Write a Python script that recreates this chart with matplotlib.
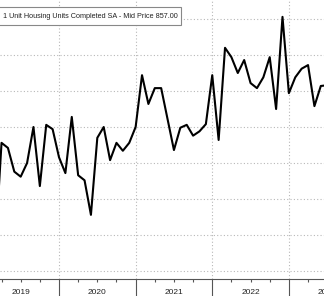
import numpy as np
import matplotlib
matplotlib.use("Agg")
import matplotlib.pyplot as plt
from matplotlib.patches import Rectangle

# mois depuis janv. 2019 (2 = mars 2019 ... 54 = juil. 2023)
months = np.arange(2, 55)
# logements unifamiliaux achevés (milliers, SA)
units = [779, 928, 921, 888, 881, 900, 950, 868, 953, 947,
         908, 886, 964, 883, 876, 828, 935, 950, 904, 928, 917, 928,
         950, 1022, 982, 1004, 1004, 961, 918, 949, 953, 938, 944, 954,
         1022, 932, 1060, 1047, 1025, 1043, 1011, 1004, 1019, 1047, 975, 1103,
         997, 1019, 1031, 1036, 979, 1007, 1008]

years = ["2019", "2020", "2021", "2022", "2023"]
year_mid = [6, 18, 30, 42, 54]
year_edges = [12, 24, 36, 48]
quarters = [m for m in range(3, 54, 3) if m % 12 != 0]
grid_levels = np.arange(750, 1101, 50)

legend_text = "1 Unit Housing Units Completed SA - Mid Price 857.00"
font = ["Liberation Sans", "DejaVu Sans"]

fig = plt.figure(figsize=(3.24, 2.96), dpi=100)
ax = fig.add_axes([0, 17 / 296, 1, 279 / 296])

ax.plot(months, units, color="black", lw=1.5, zorder=3)

for g in grid_levels:
    ax.axhline(g, color="#b8b8b8", lw=0.8, ls=(0, (1, 2)), zorder=1)
for e in year_edges:
    ax.axvline(e, color="#b8b8b8", lw=0.8, ls=(0, (1, 2)), zorder=1)

for s in ["top", "left", "right"]:
    ax.spines[s].set_visible(False)
ax.spines["bottom"].set_color("#555555")
ax.spines["bottom"].set_linewidth(0.8)

ax.set_yticks([])
ax.set_xticks(year_edges)
ax.set_xticks(quarters, minor=True)
ax.tick_params(axis="x", which="major", direction="out", length=13,
               width=0.8, color="#555555", labelbottom=False)
ax.tick_params(axis="x", which="minor", direction="out", length=2,
               width=0.8, color="#555555")

# limites posées après les ticks (set_xticks élargit la vue)
ax.set_xlim(2.76, 53.5)
ax.set_ylim(738.9, 1126.4)

for lab, m in zip(years, year_mid):
    ax.text(m, -13 / 279, lab, transform=ax.get_xaxis_transform(),
            ha="center", va="center", fontsize=6, family=font,
            color="#222222", clip_on=False)

# boîte de légende (coupée à gauche comme dans l'original)
fig.patches.append(Rectangle((-5 / 324, 1 - 25 / 296), 186 / 324, 18 / 296,
                             transform=fig.transFigure, facecolor="white",
                             edgecolor="#888888", lw=0.8, zorder=5))
fig.text(3 / 324, 1 - 16 / 296, legend_text, ha="left", va="center",
         fontsize=5.2, family=font, color="#222222", zorder=6)

fig.savefig("out.png", dpi=100)
